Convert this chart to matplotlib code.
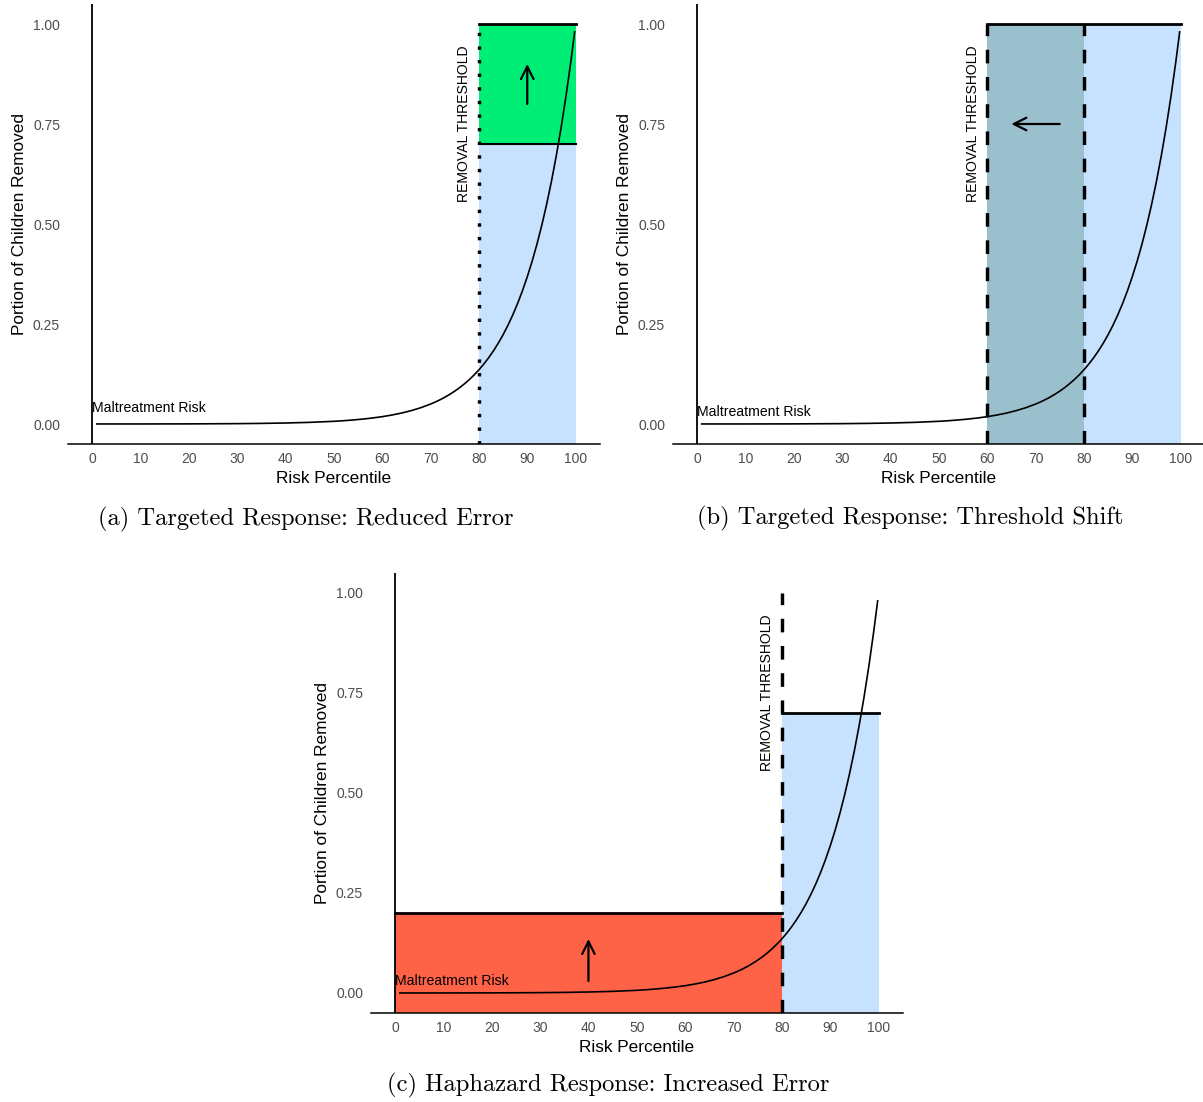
import matplotlib
matplotlib.use('Agg')
import matplotlib.pyplot as plt

plt.rcParams['font.family'] = ['Liberation Sans', 'DejaVu Sans']

# maltreatment risk by risk percentile
pct = [1, 10, 20, 30, 35, 40, 45, 50, 52, 54, 56, 58, 60, 62, 64, 66, 68,
       70, 71, 72, 73, 74, 75, 76, 77, 78, 79, 80, 81, 82, 83, 84, 85, 86,
       87, 88, 89, 90, 91, 92, 93, 94, 95, 96, 97, 98, 99, 99.8]
risk = [0.0001, 0.0001, 0.0003, 0.0009, 0.0015, 0.0025, 0.0041, 0.0067,
        0.0082, 0.0101, 0.0123, 0.0150, 0.0183, 0.0224, 0.0273, 0.0334, 0.0408,
        0.0498, 0.0550, 0.0608, 0.0672, 0.0743, 0.0821, 0.0907, 0.1003, 0.1108,
        0.1225, 0.1353, 0.1496, 0.1653, 0.1827, 0.2019, 0.2231, 0.2466, 0.2725,
        0.3012, 0.3329, 0.3679, 0.4066, 0.4493, 0.4966, 0.5488, 0.6065, 0.6703,
        0.7408, 0.8187, 0.9048, 0.9802]

xticks = [0, 10, 20, 30, 40, 50, 60, 70, 80, 90, 100]
yticks = [0.0, 0.25, 0.5, 0.75, 1.0]
ytick_labels = ['0.00', '0.25', '0.50', '0.75', '1.00']

# (a) targeted response, reduced error
thr_a = 80
rate_a_old = 0.7
rate_a_new = 1.0
# (b) targeted response, threshold shift
thr_b_old = 80
thr_b_new = 60
rate_b = 1.0
# (c) haphazard response, increased error
thr_c = 80
rate_c_above = 0.7
rate_c_below = 0.2

captions = ['(a) Targeted Response: Reduced Error',
            '(b) Targeted Response: Threshold Shift',
            '(c) Haphazard Response: Increased Error']

BLUE = '#C6E2FF'
GREEN = '#00EE76'
TEAL = '#9AC0CD'
RED = '#FF6347'
YLO = -0.05

W, H = 1203, 1102
fig = plt.figure(figsize=(W / 100, H / 100), dpi=100)


def make_axes(left_px, top_px):
    ax = fig.add_axes([left_px / W, 1 - (top_px + 440) / H, 532 / W, 440 / H])
    ax.set_xlim(-5, 105)
    ax.set_ylim(YLO, 1.05)
    ax.set_xticks(xticks)
    ax.set_yticks(yticks)
    ax.set_yticklabels(ytick_labels)
    ax.tick_params(length=0, labelsize=10, labelcolor='#4D4D4D', pad=5.6)
    for s in ['top', 'right', 'left']:
        ax.spines[s].set_visible(False)
    ax.spines['bottom'].set_linewidth(1.1)
    ax.axvline(0, color='black', lw=1.3, zorder=3)
    ax.set_xlabel('Risk Percentile', fontsize=12.4, labelpad=3.5)
    ax.set_ylabel('Portion of Children Removed', fontsize=12.4, labelpad=4)
    return ax


def risk_curve(ax, label_y):
    ax.plot(pct, risk, color='black', lw=1.2, zorder=5)
    ax.text(0, label_y, 'Maltreatment Risk', fontsize=10.1, ha='left',
            va='center', zorder=6)


def threshold_text(ax, thr):
    ax.text(thr - 3, 0.75, 'REMOVAL THRESHOLD', rotation=90, fontsize=10.1,
            ha='center', va='center', zorder=6)


def arrow(ax, start, end):
    ax.annotate('', xy=end, xytext=start, zorder=7,
                arrowprops=dict(arrowstyle='->,head_length=0.9,head_width=0.45',
                                lw=1.6, color='black', shrinkA=0, shrinkB=0))


# (a)
ax = make_axes(67.8, 4)
ax.fill_between([thr_a, 100], YLO, rate_a_old, color=BLUE, lw=0, zorder=1)
ax.fill_between([thr_a, 100], rate_a_old, rate_a_new, color=GREEN, lw=0, zorder=1)
ax.plot([thr_a, 100], [rate_a_new, rate_a_new], color='black', lw=2.0, zorder=4)
ax.plot([thr_a, 100], [rate_a_old, rate_a_old], color='black', lw=1.5, zorder=4)
ax.plot([thr_a, thr_a], [YLO, rate_a_new], color='black', lw=2.45,
        linestyle=(0, (1, 3)), zorder=4)
threshold_text(ax, thr_a)
risk_curve(ax, 0.04)
arrow(ax, (90, 0.8), (90, 0.9))

# (b)
ax = make_axes(672.8, 4)
ax.fill_between([thr_b_new, thr_b_old], YLO, rate_b, color=TEAL, lw=0, zorder=1)
ax.fill_between([thr_b_old, 100], YLO, rate_b, color=BLUE, lw=0, zorder=1)
ax.plot([thr_b_new, 100], [rate_b, rate_b], color='black', lw=2.0, zorder=4)
for t in [thr_b_new, thr_b_old]:
    ax.plot([t, t], [YLO, rate_b], color='black', lw=2.45,
            linestyle=(0, (4, 4)), zorder=4)
threshold_text(ax, thr_b_new)
risk_curve(ax, 0.03)
arrow(ax, (75, 0.75), (65, 0.75))

# (c)
ax = make_axes(370.8, 573)
ax.fill_between([0, thr_c], YLO, rate_c_below, color=RED, lw=0, zorder=1)
ax.fill_between([thr_c, 100], YLO, rate_c_above, color=BLUE, lw=0, zorder=1)
ax.plot([0, thr_c], [rate_c_below, rate_c_below], color='black', lw=2.0, zorder=4)
ax.plot([thr_c, 100], [rate_c_above, rate_c_above], color='black', lw=2.0, zorder=4)
ax.plot([thr_c, thr_c], [YLO, 1.0], color='black', lw=2.45,
        linestyle=(0, (4, 4)), zorder=4)
threshold_text(ax, thr_c)
risk_curve(ax, 0.03)
arrow(ax, (40, 0.03), (40, 0.135))

# captions under each panel
for (cx, cy), cap in zip([(305.5, 519), (910, 518), (608, 1085)], captions):
    fig.text(cx / W, 1 - cy / H, cap, ha='center', va='center',
             family='cmr10', fontsize=17.7)

fig.savefig('out.png', dpi=100)
